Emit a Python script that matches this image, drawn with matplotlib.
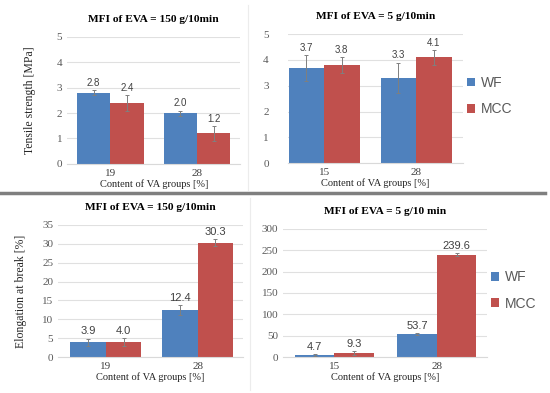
import numpy as np
import matplotlib
matplotlib.use('Agg')
import matplotlib.pyplot as plt
from matplotlib.lines import Line2D

# Daten
groups_a = ['19', '28']
groups_b = ['15', '28']

ts150_wf = [2.8, 2.0]
ts150_wf_err = [0.1, 0.1]
ts150_mcc = [2.4, 1.2]
ts150_mcc_err = [0.3, 0.3]

ts5_wf = [3.7, 3.3]
ts5_wf_err = [0.5, 0.6]
ts5_mcc = [3.8, 4.1]
ts5_mcc_err = [0.3, 0.3]

el150_wf = [3.9, 12.4]
el150_wf_err = [1.0, 1.3]
el150_mcc = [4.0, 30.3]
el150_mcc_err = [1.0, 1.0]

el5_wf = [4.7, 53.7]
el5_wf_err = [3.0, 2.0]
el5_mcc = [9.3, 239.6]
el5_mcc_err = [4.0, 4.0]

blue = '#4F81BD'
red = '#C0504D'
grey = '#595959'
serif = 'Liberation Serif'
sans = 'Liberation Sans'

fig = plt.figure(figsize=(5.5, 3.93), dpi=100)


def panel(rect, cats, wf, wferr, mcc, mccerr, ymax, ystep, xlim, title,
          ylabel=None, ylpad=4, legend=False, labelfmt='{:.1f}', lblsize=7):
    ax = fig.add_axes(rect)
    x = np.arange(len(cats))
    w = 0.385
    ax.bar(x - w / 2, wf, w, color=blue, label='WF', zorder=2)
    ax.bar(x + w / 2, mcc, w, color=red, label='MCC', zorder=2)
    ax.errorbar(x - w / 2, wf, yerr=wferr, fmt='none', ecolor='#7f7f7f',
                elinewidth=0.7, capsize=1.5, capthick=0.7, zorder=3)
    ax.errorbar(x + w / 2, mcc, yerr=mccerr, fmt='none', ecolor='#7f7f7f',
                elinewidth=0.7, capsize=1.5, capthick=0.7, zorder=3)
    for xi, v, e in zip(x - w / 2, wf, wferr):
        ax.annotate(labelfmt.format(v), (xi, v + e), xytext=(0, 1.5),
                    textcoords='offset points', ha='center', va='bottom',
                    fontsize=lblsize, color='#404040', family=sans)
    for xi, v, e in zip(x + w / 2, mcc, mccerr):
        ax.annotate(labelfmt.format(v), (xi, v + e), xytext=(0, 1.5),
                    textcoords='offset points', ha='center', va='bottom',
                    fontsize=lblsize, color='#404040', family=sans)
    ax.set_ylim(0, ymax)
    ax.set_yticks(np.arange(0, ymax + 0.1, ystep))
    ax.set_xlim(*xlim)
    ax.set_xticks(x)
    ax.set_xticklabels(cats)
    for s in ['top', 'right', 'left']:
        ax.spines[s].set_visible(False)
    ax.spines['bottom'].set_color('#d9d9d9')
    ax.grid(axis='y', color='#e0e0e0', linewidth=0.8, zorder=0)
    ax.set_axisbelow(True)
    ax.tick_params(length=0, colors=grey, labelsize=8)
    ax.tick_params(axis='x', colors='#404040')
    for lab in ax.get_xticklabels() + ax.get_yticklabels():
        lab.set_family(serif)
    ax.set_xlabel('Content of VA groups [%]', family=serif, fontsize=7.5,
                  color='#262626', labelpad=1)
    if ylabel:
        ax.set_ylabel(ylabel, family=serif, fontsize=8.5, color='#262626',
                      labelpad=ylpad)
    ax.set_title(title, family=serif, fontweight='bold', fontsize=8.2, pad=11)
    if legend:
        ax.legend(loc='center left', bbox_to_anchor=(1.02, 0.52), frameon=False,
                  borderaxespad=0, borderpad=0,
                  prop={'family': sans, 'size': 10}, labelcolor=grey,
                  handlelength=0.6, handleheight=0.6, handletextpad=0.4,
                  labelspacing=0.9)
    return ax


panel([0.122, 0.583, 0.315, 0.323], groups_a, ts150_wf, ts150_wf_err,
      ts150_mcc, ts150_mcc_err, 5, 1, (-0.5, 1.5), 'MFI of EVA = 150 g/10min',
      ylabel='Tensile strength [MPa]', ylpad=15)
ax = panel([0.524, 0.585, 0.318, 0.328], groups_b, ts5_wf, ts5_wf_err,
           ts5_mcc, ts5_mcc_err, 5, 1, (-0.39, 1.51), 'MFI of EVA = 5 g/10min',
           legend=True)
ax.tick_params(axis='y', pad=14)
panel([0.1055, 0.0916, 0.336, 0.336], groups_a, el150_wf, el150_wf_err,
      el150_mcc, el150_mcc_err, 35, 5, (-0.52, 1.49), 'MFI of EVA = 150 g/10min',
      ylabel='Elongation at break [%]', ylpad=11, lblsize=8)
panel([0.5145, 0.0916, 0.371, 0.326], groups_b, el5_wf, el5_wf_err,
      el5_mcc, el5_mcc_err, 300, 50, (-0.5, 1.49), 'MFI of EVA = 5 g/10 min',
      legend=True, lblsize=8)

# Trennlinien
fig.add_artist(Line2D([0.0, 0.99], [1 - 193 / 393, 1 - 193 / 393],
                      color='#7f7f7f', linewidth=2.5))
fig.add_artist(Line2D([248 / 550, 248 / 550], [1 - 5 / 393, 1 - 190 / 393],
                      color='#ececec', linewidth=0.8))
fig.add_artist(Line2D([250 / 550, 250 / 550], [1 - 198 / 393, 1 - 390 / 393],
                      color='#ececec', linewidth=0.8))

plt.savefig('out.png', dpi=100)
plt.close()
